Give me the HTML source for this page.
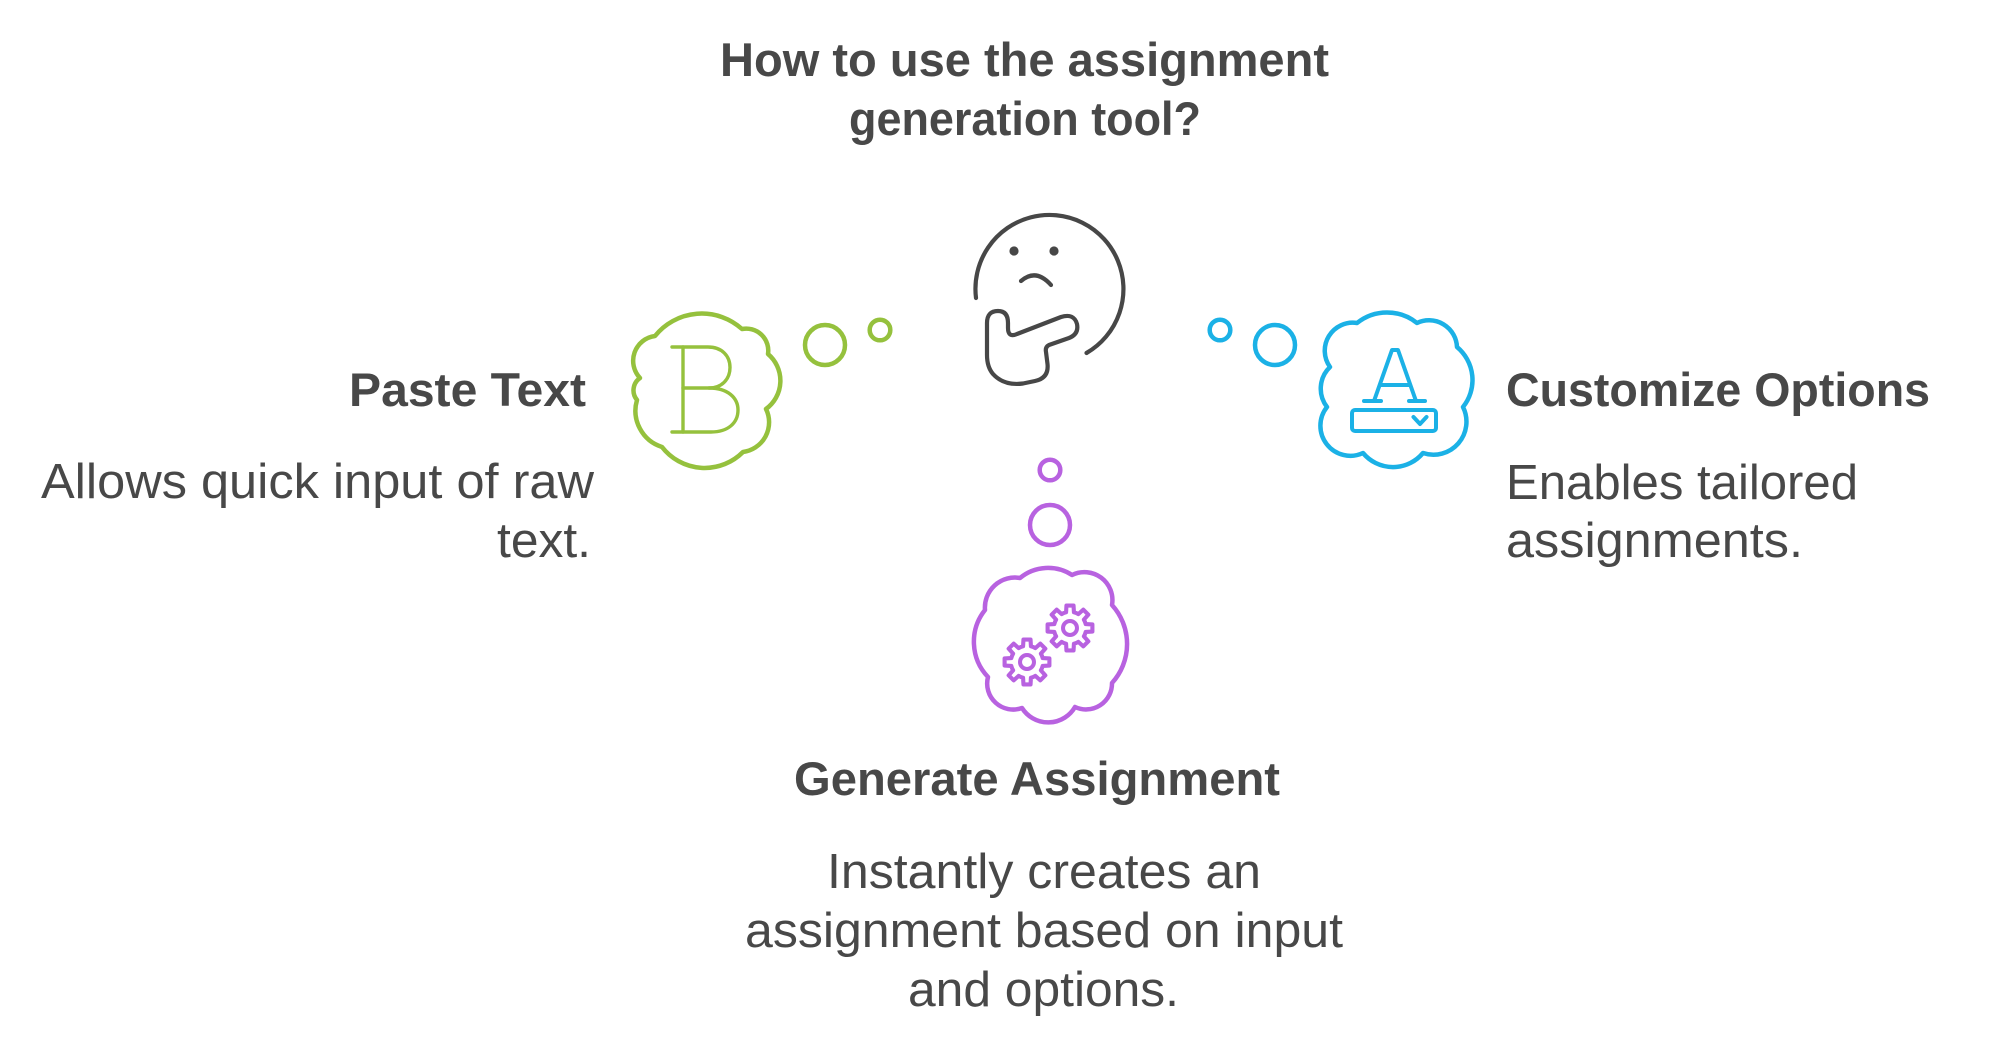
<!DOCTYPE html>
<html>
<head>
<meta charset="utf-8">
<style>
  html, body { margin: 0; padding: 0; background: #ffffff; }
  svg { display: block; }
</style>
</head>
<body>
<svg width="2010" height="1050" viewBox="0 0 2010 1050" xmlns="http://www.w3.org/2000/svg">
  <defs>
    <path id="gear" d="M14.55,-3.63 L20.74,-3.29 L20.74,3.29 L14.55,3.63 A15,15 0 0 1 12.86,7.73 L16.99,12.34 L12.34,16.99 L7.73,12.86 A15,15 0 0 1 3.63,14.55 L3.29,20.74 L-3.29,20.74 L-3.63,14.55 A15,15 0 0 1 -7.73,12.86 L-12.34,16.99 L-16.99,12.34 L-12.86,7.73 A15,15 0 0 1 -14.55,3.63 L-20.74,3.29 L-20.74,-3.29 L-14.55,-3.63 A15,15 0 0 1 -12.86,-7.73 L-16.99,-12.34 L-12.34,-16.99 L-7.73,-12.86 A15,15 0 0 1 -3.63,-14.55 L-3.29,-20.74 L3.29,-20.74 L3.63,-14.55 A15,15 0 0 1 7.73,-12.86 L12.34,-16.99 L16.99,-12.34 L12.86,-7.73 A15,15 0 0 1 14.55,-3.63 Z"/>
  </defs>
  <rect width="2010" height="1050" fill="#ffffff"/>

  <!-- Text -->
  <g font-family="'Liberation Sans', Arial, sans-serif" fill="#484848">
    <text x="720" y="76" font-size="47" font-weight="700" textLength="609" lengthAdjust="spacingAndGlyphs">How to use the assignment</text>
    <text x="849" y="135" font-size="47" font-weight="700" textLength="352" lengthAdjust="spacingAndGlyphs">generation tool?</text>

    <text x="349" y="406" font-size="47" font-weight="700" textLength="237" lengthAdjust="spacingAndGlyphs">Paste Text</text>
    <text x="41" y="498" font-size="49.5" textLength="553" lengthAdjust="spacingAndGlyphs">Allows quick input of raw</text>
    <text x="497" y="557" font-size="49.5" textLength="94" lengthAdjust="spacingAndGlyphs">text.</text>

    <text x="1506" y="406" font-size="47" font-weight="700" textLength="424" lengthAdjust="spacingAndGlyphs">Customize Options</text>
    <text x="1506" y="499" font-size="49.5" textLength="352" lengthAdjust="spacingAndGlyphs">Enables tailored</text>
    <text x="1506" y="557" font-size="49.5" textLength="297" lengthAdjust="spacingAndGlyphs">assignments.</text>

    <text x="794" y="795" font-size="47" font-weight="700" textLength="486" lengthAdjust="spacingAndGlyphs">Generate Assignment</text>
    <text x="827" y="888" font-size="49.5" textLength="434" lengthAdjust="spacingAndGlyphs">Instantly creates an</text>
    <text x="745" y="947" font-size="49.5" textLength="598" lengthAdjust="spacingAndGlyphs">assignment based on input</text>
    <text x="908" y="1006" font-size="49.5" textLength="271" lengthAdjust="spacingAndGlyphs">and options.</text>
  </g>

  <!-- Thinking face -->
  <g fill="none" stroke="#474747" stroke-width="4.2" stroke-linecap="round" stroke-linejoin="round">
    <path d="M976,298 A74,74 0 1 1 1086.5,353"/>
    <path d="M1021,281 Q1036,268 1051,285"/>
    <path d="M987,355 L987,323 Q987,311 998,311 Q1008,311 1008,323 L1008,328 Q1008,338 1017,334 L1061,317 Q1074,313 1077,324 Q1079,334 1069,338 L1049,345 Q1045,347 1046,352 L1047.5,364 Q1049,378 1035,381 L1023,383.5 Q1004,386 993,374 Q987,367 987,355 Z"/>
  </g>
  <circle cx="1014" cy="251" r="4.6" fill="#474747"/>
  <circle cx="1054" cy="251" r="4.6" fill="#474747"/>

  <!-- Green: Paste Text -->
  <g fill="none" stroke="#95c13d" stroke-width="4.5" stroke-linecap="round" stroke-linejoin="round">
    <circle cx="825" cy="345" r="20"/>
    <circle cx="880" cy="330" r="10.3"/>
    <path d="M655,336 A60,60 0 0 1 742,329 A22,22 0 0 1 768,354 A35,35 0 0 1 766,409 A30,30 0 0 1 743,452 A54,54 0 0 1 662,447 A38,38 0 0 1 637,400 A15,15 0 0 1 640,378 A25,25 0 0 1 655,336 Z"/>
  </g>
  <g fill="none" stroke="#95c13d" stroke-width="3.4" stroke-linecap="round" stroke-linejoin="round">
    <path d="M672,347 L708,347 C722,347 730,356 730,367.5 C730,379 722,388 709,388 L683,388"/>
    <path d="M683,347 L683,432"/>
    <path d="M709,388 C728,388 738,398 738,410 C738,423 728,432 711,432 L672,432"/>
  </g>

  <!-- Blue: Customize Options -->
  <g fill="none" stroke="#1bb1e6" stroke-width="4.5" stroke-linecap="round" stroke-linejoin="round">
    <circle cx="1220" cy="330" r="10.3"/>
    <circle cx="1275" cy="345" r="20"/>
    <path d="M1357,323 A48,48 0 0 1 1417,323 A28,28 0 0 1 1457,347 A43,43 0 0 1 1463,407 A33,33 0 0 1 1423,453 A39,39 0 0 1 1363,453 A30,30 0 0 1 1327,407 A30,30 0 0 1 1330,367 A28,28 0 0 1 1357,323 Z"/>
  </g>
  <g fill="none" stroke="#1bb1e6" stroke-width="4" stroke-linecap="round" stroke-linejoin="round">
    <path d="M1374,401 L1392,350 L1398,350 L1416,401"/>
    <path d="M1381,385 L1409,385"/>
    <path d="M1364,401 L1381,401"/>
    <path d="M1409,401 L1425,401"/>
    <rect x="1352" y="410" width="84" height="21" rx="3"/>
    <path d="M1413.5,417 L1420,424 L1426.5,417"/>
  </g>

  <!-- Purple: Generate Assignment -->
  <g fill="none" stroke="#b862e0" stroke-width="4.5" stroke-linecap="round" stroke-linejoin="round">
    <circle cx="1050" cy="470" r="10.3"/>
    <circle cx="1050" cy="525" r="20"/>
    <path d="M1020,578 A44,44 0 0 1 1072,575 A28,28 0 0 1 1112,605 A58,58 0 0 1 1112,683 A26,26 0 0 1 1075,707 A31,31 0 0 1 1022,708 A26,26 0 0 1 988,677 A51,51 0 0 1 985,610 A30,30 0 0 1 1020,578 Z"/>
  </g>
  <g fill="none" stroke="#b862e0" stroke-linecap="round" stroke-linejoin="round">
    <use href="#gear" transform="translate(1070,628) scale(1.08)" stroke-width="3.8"/>
    <use href="#gear" transform="translate(1027,662) scale(1.08)" stroke-width="3.8"/>
    <circle cx="1070" cy="628" r="7" stroke-width="4"/>
    <circle cx="1027" cy="662" r="7" stroke-width="4"/>
  </g>
</svg>
</body>
</html>
